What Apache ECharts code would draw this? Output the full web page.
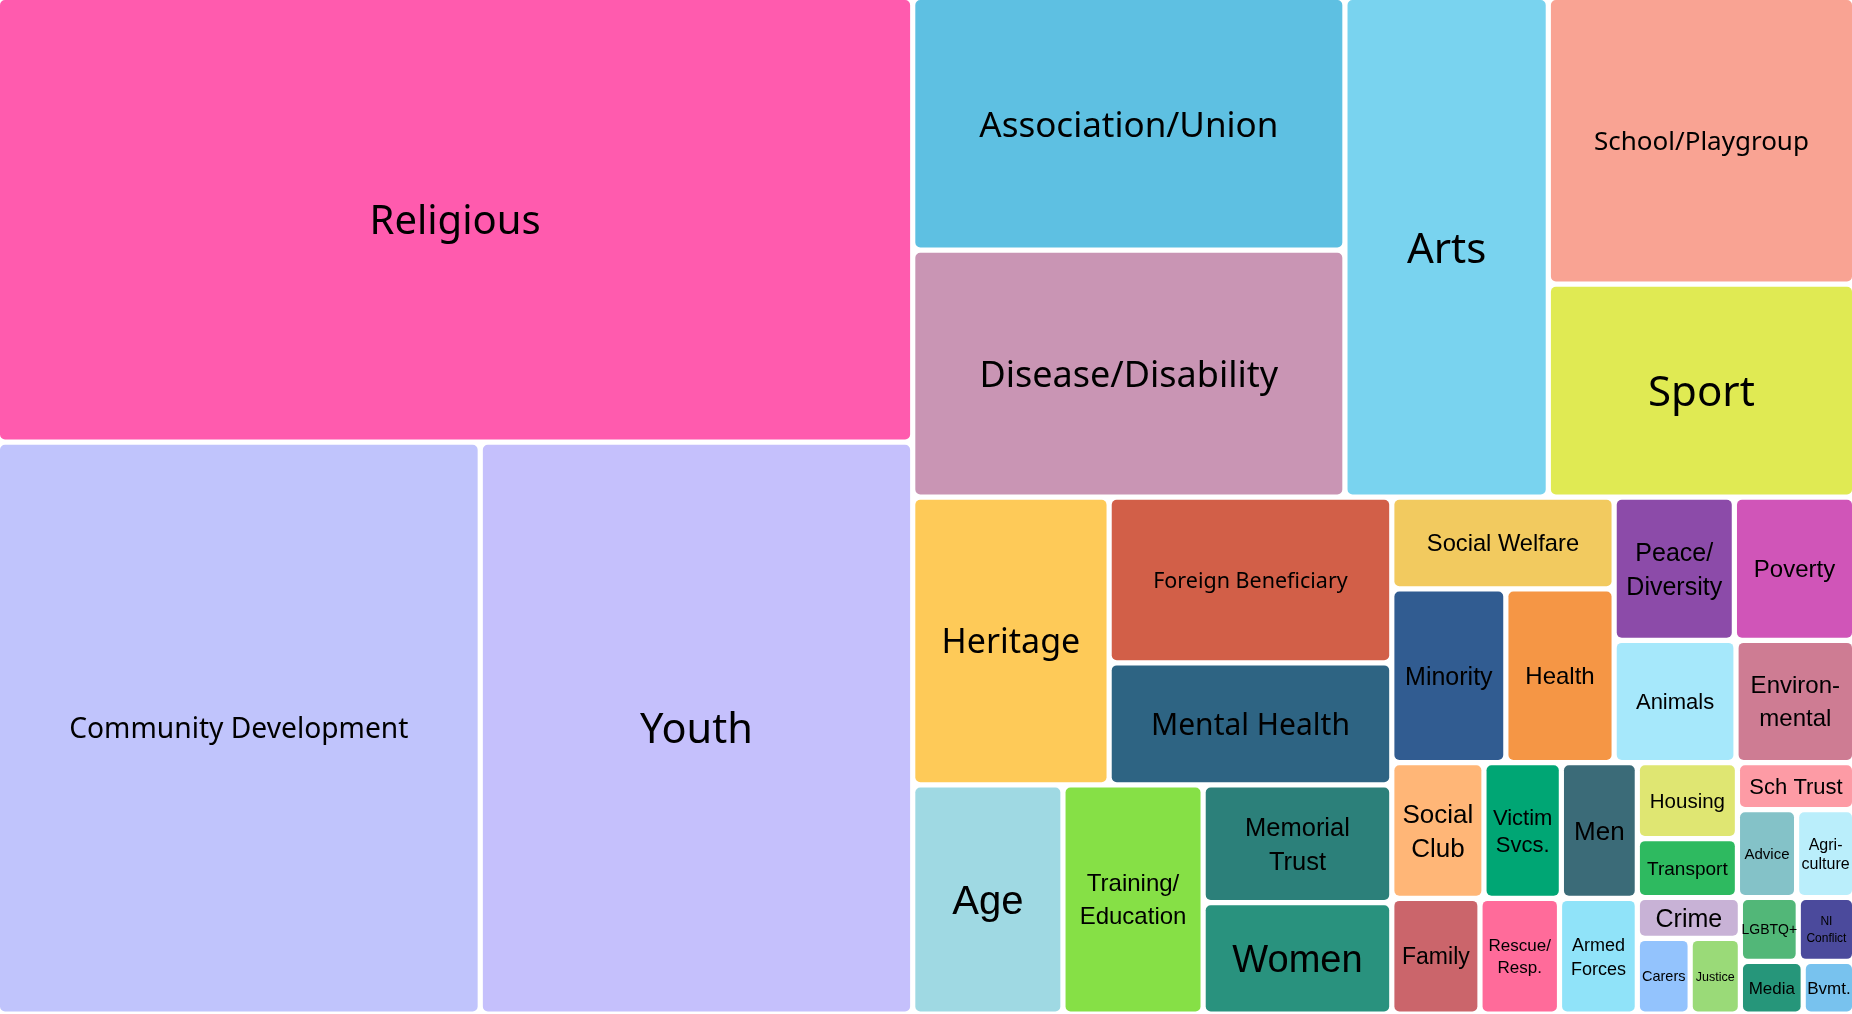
<!DOCTYPE html>
<html>
<head>
<meta charset="utf-8">
<script src="https://cdn.jsdelivr.net/npm/echarts@6/dist/echarts.min.js"></script>
<style>
html,body{margin:0;padding:0;background:#ffffff;}
#chart{width:1852px;height:1014px;}
</style>
</head>
<body>
<div id="chart"></div>
<script>
// ---- data (categories, values, colours) ----
const categories = [
  'Religious', 'Community Development', 'Youth', 'Association/Union', 'Disease/Disability',
  'Arts', 'School/Playgroup', 'Sport', 'Heritage', 'Foreign Beneficiary',
  'Mental Health', 'Age', 'Training/\nEducation', 'Memorial\nTrust', 'Women',
  'Social Welfare', 'Minority', 'Health', 'Peace/\nDiversity', 'Poverty',
  'Animals', 'Environ-\nmental', 'Social\nClub', 'Victim\nSvcs.', 'Men',
  'Family', 'Rescue/\nResp.', 'Armed\nForces', 'Housing', 'Transport',
  'Sch Trust', 'Advice', 'Agri-\nculture', 'Crime', 'Carers',
  'Justice', 'LGBTQ+', 'NI\nConflict', 'Media', 'Bvmt.'
];
const values = [
  4069, 2760, 2472, 1092, 1067,
  1016, 878, 652, 565, 468,
  345, 344, 321, 222, 210,
  204, 198, 188, 172, 172,
  149, 145, 125, 105, 103,
  102, 92, 90, 76, 59,
  55, 52, 51, 42, 40,
  38, 37, 36, 33, 27
];
const colors = [
  '#FF5BAE', '#C0C4FC', '#C5C0FC', '#5EC0E2', '#C995B4',
  '#79D3EF', '#F9A393', '#E0EA53', '#FECA58', '#D25F48',
  '#2E6483', '#9FD9E3', '#86E046', '#2C807A', '#29927E',
  '#F2CA5F', '#315C91', '#F59645', '#8C4BA9', '#D055B8',
  '#A6E8FB', '#CE7C93', '#FFB677', '#00A674', '#3B6B78',
  '#CB656B', '#FF6B9A', '#90E3F9', '#DFE672', '#2EBA60',
  '#FD9BA5', '#84C2C8', '#BAEEFB', '#C8B2D6', '#93C3FD',
  '#9ADA78', '#52B778', '#4B4A9C', '#26967A', '#78C2EE'
];

// ---- label styling ----
const labelSizes = [
  40, 28.2, 41.5, 35, 36,
  42, 26, 42, 34, 21.5,
  30, 40, 24, 25.5, 38,
  23.7, 25, 24, 25, 24,
  22, 24, 26, 22, 26,
  23, 17, 18, 20.5, 19,
  22, 15, 16, 25, 14.5,
  12.5, 14, 12, 17, 17
];
const lineHeights = [
  0, 0, 0, 0, 0,
  0, 0, 0, 0, 0,
  0, 0, 33, 34, 0,
  0, 0, 0, 34, 0,
  0, 33, 34, 27, 0,
  0, 22, 24, 0, 0,
  0, 0, 19, 0, 0,
  0, 0, 17, 0, 0
];
const NOTO = '"Noto Sans", sans-serif';
const LIB = '"Liberation Sans", Arial, sans-serif';
const labelFonts = categories.map((c, i) => i <= 10 ? NOTO : LIB);

// ---- build leaves ----
const leaves = categories.map((name, i) => ({
  name: name,
  value: values[i],
  itemStyle: { color: colors[i], borderWidth: 2.6, borderColor: '#ffffff', borderRadius: 5 },
  label: {
    fontSize: labelSizes[i],
    fontFamily: labelFonts[i],
    lineHeight: lineHeights[i] || Math.round(labelSizes[i] * 1.3),
    offset: [0, Math.round(labelSizes[i] * 0.08 * 10) / 10]
  }
}));

// binary grouping (split each list where the running sum is closest to half)
function binaryGroup(nodes) {
  if (nodes.length === 1) return nodes[0];
  const sums = [0];
  nodes.forEach((n, i) => sums.push(sums[i] + n.value));
  const target = sums[nodes.length] / 2;
  let k = 1, hi = nodes.length - 1;
  while (k < hi) {
    const mid = (k + hi) >>> 1;
    if (sums[mid] < target) k = mid + 1; else hi = mid;
  }
  if ((target - sums[k - 1]) < (sums[k] - target) && 1 < k) --k;
  return { name: '', children: [binaryGroup(nodes.slice(0, k)), binaryGroup(nodes.slice(k))] };
}
const root = binaryGroup(leaves);

const chart = echarts.init(document.getElementById('chart'), null, { renderer: 'canvas' });
chart.setOption({
  animation: false,
  tooltip: { show: false },
  series: [{
    type: 'treemap',
    left: -2.6, top: -2.6, width: 1857.2, height: 1016.6,
    roam: false,
    nodeClick: false,
    breadcrumb: { show: false },
    sort: false,
    squareRatio: 1e-6,
    visibleMin: 0,
    itemStyle: { borderWidth: 0, gapWidth: 0, borderColor: '#ffffff' },
    upperLabel: { show: false },
    label: {
      show: true, position: 'inside', align: 'center', verticalAlign: 'middle',
      color: '#000000', padding: 0, overflow: 'none'
    },
    emphasis: { disabled: true },
    data: root.children ? root.children : [root]
  }]
});
</script>
</body>
</html>
